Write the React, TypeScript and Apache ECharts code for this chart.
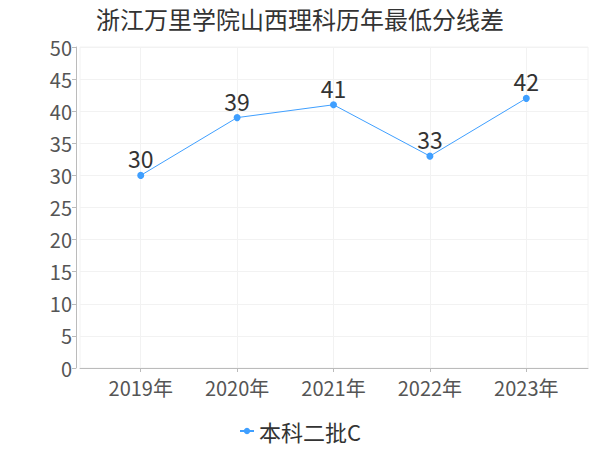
import React, { useEffect, useRef } from "react";
import * as echarts from "echarts";

const titleText = "浙江万里学院山西理科历年最低分线差";
const years = [2019, 2020, 2021, 2022, 2023];
const seriesName = "本科二批C";
const values = [30, 39, 41, 33, 42];
const yTicks = [0, 5, 10, 15, 20, 25, 30, 35, 40, 45, 50];

const FONT = "'Noto Sans CJK SC', 'Noto Sans', sans-serif";
const BLUE = "#3f9fff";

export default function App() {
  const ref = useRef<HTMLDivElement>(null);
  useEffect(() => {
    if (!ref.current) return;
    const chart = echarts.init(ref.current, undefined, { renderer: "svg" });
    chart.setOption({
      animation: false,
      textStyle: { fontFamily: FONT },
      title: {
        text: titleText,
        left: "center",
        top: 1,
        textStyle: { fontSize: 24, fontWeight: "normal", color: "#333", fontFamily: FONT },
      },
      legend: {
        bottom: 3,
        left: "center",
        data: [seriesName],
        itemWidth: 14,
        itemHeight: 8,
        itemGap: 4,
        textStyle: { fontSize: 22, color: "#333", fontFamily: FONT },
      },
      grid: {
        left: 80,
        right: 12,
        top: 47,
        bottom: 82,
        show: true,
        borderColor: "#f2f2f2",
        borderWidth: 1,
      },
      xAxis: {
        type: "value",
        min: 2018.37,
        max: 2023.64,
        axisLine: { show: true, lineStyle: { color: "#bbb" } },
        axisTick: { show: true, length: 4, customValues: years, lineStyle: { color: "#bbb" } },
        axisLabel: {
          customValues: years,
          formatter: (v: number) => v + "年",
          fontSize: 20,
          color: "#555",
          margin: 9,
          fontFamily: FONT,
        },
        splitLine: { show: true, lineStyle: { color: "#f2f2f2" } },
      },
      yAxis: {
        type: "value",
        min: yTicks[0],
        max: yTicks[yTicks.length - 1],
        interval: 5,
        offset: 4,
        axisLine: { show: true, lineStyle: { color: "#bbb" } },
        axisTick: { show: true, length: 4, lineStyle: { color: "#bbb" } },
        axisLabel: { fontSize: 20, color: "#555", margin: 4, fontFamily: FONT },
        splitLine: { show: true, lineStyle: { color: "#f2f2f2" } },
      },
      series: [
        {
          name: seriesName,
          type: "line",
          data: years.map((y, i) => [y, values[i]]),
          symbol: "circle",
          symbolSize: 7,
          itemStyle: { color: BLUE },
          lineStyle: { color: BLUE, width: 1 },
          label: {
            show: true,
            position: "top",
            distance: 2,
            fontSize: 23,
            color: "#333",
            fontFamily: FONT,
          },
        },
      ],
    });
    return () => chart.dispose();
  }, []);
  return <div ref={ref} style={{ width: 600, height: 450, position: "absolute", left: 0, top: 0 }} />;
}
